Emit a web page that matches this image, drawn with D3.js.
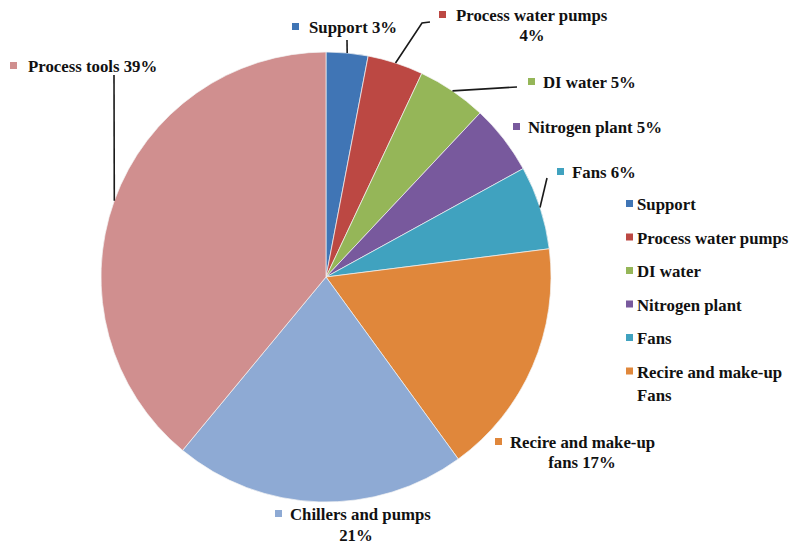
<!DOCTYPE html>
<html>
<head>
<meta charset="utf-8">
<script src="https://cdn.jsdelivr.net/npm/d3@7"></script>
<style>
  body { margin: 0; background: #fff; }
  svg text { font-family: "Liberation Serif", "Times New Roman", serif; font-weight: bold; font-size: 16.8px; fill: #111; }
</style>
</head>
<body>
<div class="canvas"></div>
<script>
// data
const categories = ['Support', 'Process water pumps', 'DI water', 'Nitrogen plant', 'Fans',
                    'Recire and make-up fans', 'Chillers and pumps', 'Process tools'];
const shares = [3, 4, 5, 5, 6, 17, 21, 39];
const colours = ['#4075b5', '#bc4843', '#95b658', '#78599d', '#40a2bf', '#e0873b', '#8eaad4', '#d08f8f'];
// legend in the picture stops after six entries
const legendLabels = ['Support', 'Process water pumps', 'DI water', 'Nitrogen plant', 'Fans', 'Recire and make-up|Fans'];

const dims = {width: 793, height: 545, radius: 225};
const cent = {x: 326, y: 277};

const svg = d3.select('.canvas')
    .append('svg')
    .attr('width', dims.width)
    .attr('height', dims.height);

const data = categories.map((c, i) => ({name: c, value: shares[i]}));

const pie = d3.pie()
    .sort(null)
    .value(d => d.value);

const arcPath = d3.arc()
    .outerRadius(dims.radius)
    .innerRadius(0);

const colour = d3.scaleOrdinal()
    .domain(categories)
    .range(colours);

const arcs = pie(data);

const graph = svg.append('g')
    .attr('transform', `translate(${cent.x}, ${cent.y})`);

graph.selectAll('path')
    .data(arcs)
    .enter()
    .append('path')
        .attr('d', arcPath)
        .attr('fill', d => colour(d.data.name))
        .attr('stroke', '#f4f4f4')
        .attr('stroke-width', 0.7);

// label placement (left x of marker, baseline of first line), extra lines as [text, x, y]
const labelPos = {
    'Support':               {mx: 292, tx: 309, y: 33,  lines: ['Support 3%']},
    'Process water pumps':   {mx: 439, tx: 456, y: 21,  lines: ['Process water pumps'], more: [['4%', 532, 41]]},
    'DI water':              {mx: 528, tx: 543, y: 88,  lines: ['DI water 5%']},
    'Nitrogen plant':        {mx: 513, tx: 528, y: 133, lines: ['Nitrogen plant 5%']},
    'Fans':                  {mx: 557, tx: 572, y: 178, lines: ['Fans 6%']},
    'Recire and make-up fans': {mx: 495, tx: 510, y: 448, lines: ['Recire and make-up'], more: [['fans 17%', 582, 468]]},
    'Chillers and pumps':    {mx: 275, tx: 290, y: 520, lines: ['Chillers and pumps'], more: [['21%', 356, 541]]},
    'Process tools':         {mx: 10,  tx: 28,  y: 72,  lines: ['Process tools 39%']}
};

// leader lines: label-side points, the slice end comes from the arc
const leaders = {
    'Support':             [[347, 40]],
    'Process water pumps': [[430, 22], [422, 23]],
    'DI water':            [[517, 87]],
    'Fans':                [[547, 178]],
    'Process tools':       [[114, 75]]
};

const edgePoint = (d) => {
    const a = (d.startAngle + d.endAngle) / 2;
    const dx = dims.radius * Math.sin(a);
    const dy = -Math.sqrt(dims.radius * dims.radius - dx * dx);
    return [cent.x + dx, cent.y + dy];
};

const line = d3.line();
arcs.forEach(d => {
    const pts = leaders[d.data.name];
    if (!pts) return;
    svg.append('path')
        .attr('d', line(pts.concat([edgePoint(d)])))
        .attr('fill', 'none')
        .attr('stroke', '#1a1a1a')
        .attr('stroke-width', 1.6);
});

arcs.forEach(d => {
    const p = labelPos[d.data.name];
    svg.append('rect')
        .attr('x', p.mx).attr('y', p.y - 10)
        .attr('width', 7).attr('height', 7)
        .attr('fill', colour(d.data.name));
    svg.append('text')
        .attr('x', p.tx).attr('y', p.y)
        .text(p.lines[0]);
    (p.more || []).forEach(m => {
        svg.append('text')
            .attr('x', m[1]).attr('y', m[2])
            .attr('text-anchor', 'middle')
            .text(m[0]);
    });
});

// legend
const legendGroup = svg.append('g')
    .attr('transform', 'translate(626, 210)');

legendLabels.forEach((l, i) => {
    const g = legendGroup.append('g')
        .attr('transform', `translate(0, ${i * 33.5})`);
    g.append('rect')
        .attr('x', 0).attr('y', -10)
        .attr('width', 7).attr('height', 7)
        .attr('fill', colours[i]);
    l.split('|').forEach((t, j) => {
        g.append('text')
            .attr('x', 11).attr('y', j * 23)
            .text(t);
    });
});
</script>
</body>
</html>
